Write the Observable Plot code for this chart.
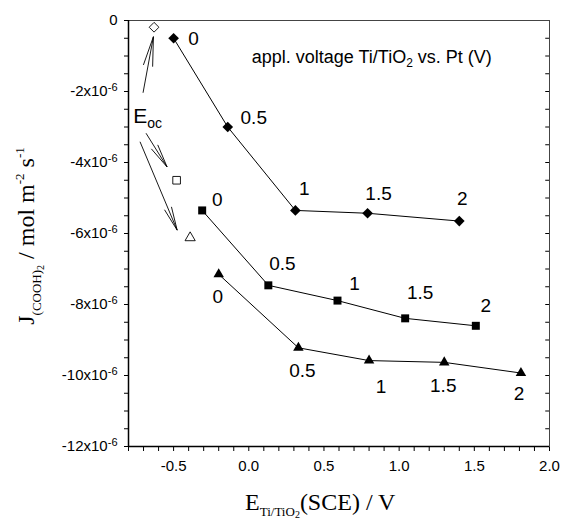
<!DOCTYPE html>
<html><head><meta charset="utf-8">
<script src="https://cdn.jsdelivr.net/npm/d3@7"></script>
<script src="https://cdn.jsdelivr.net/npm/@observablehq/plot@0.6"></script>
<style>
html,body{margin:0;padding:0;background:#fff}
#chart svg{display:block}
</style></head><body><div id="chart"></div>
<script>
// x: E(Ti/TiO2) vs SCE in V; y: J(COOH)2 in units of 1e-6 mol m^-2 s^-1
const voltageLabels = ["0", "0.5", "1", "1.5", "2"];
const diamondE = [-0.50, -0.14, 0.31, 0.79, 1.40];
const diamondJ = [-0.50, -3.00, -5.35, -5.43, -5.65];
const squareE  = [-0.31, 0.13, 0.59, 1.04, 1.51];
const squareJ  = [-5.35, -7.46, -7.89, -8.39, -8.60];
const triangleE = [-0.20, 0.33, 0.80, 1.30, 1.81];
const triangleJ = [-7.15, -9.22, -9.58, -9.63, -9.93];
const eocE = [-0.63, -0.48, -0.39];
const eocJ = [-0.19, -4.50, -6.12];
const eocSymbols = ["diamond2", "square", "triangle"];
const arrowFromE = [-0.70, -0.68, -0.72];
const arrowFromJ = [-2.05, -3.19, -3.43];
const arrowToE = [-0.631, -0.54, -0.473];
const arrowToJ = [-0.47, -4.14, -5.92];
const eocLabelE = -0.765, eocLabelJ = -2.9;
const noteE = 0.023, noteJ = -1.21;
const xTicks = [-0.5, 0.0, 0.5, 1.0, 1.5, 2.0];
const xMinorTicks = d3.range(-8, 21).map(d => d / 10);
const yTicks = [0, -2, -4, -6, -8, -10, -12];
const yMinorTicks = d3.range(0, -25, -1).map(d => d / 2);
const xDomain = [-0.8, 2.0];
const yDomain = [-12, 0];

const sans = "'Liberation Sans', Arial, Helvetica, sans-serif";
const serif = "'Liberation Serif', 'Times New Roman', serif";

const series = [
  {E: diamondE, J: diamondJ, symbol: "diamond2", r: 4.8, offsets: [[20,1],[26,-9],[9,-22],[11,-19],[3,-22]]},
  {E: squareE, J: squareJ, symbol: "square", r: 4.5, offsets: [[15,-11],[14,-21],[17,-17],[15,-25],[10,-20]]},
  {E: triangleE, J: triangleJ, symbol: "triangle", r: 3.9, offsets: [[-1,23],[4,23],[12,26],[-1,24],[-2,21]]}
];

const marks = [
  Plot.axisX(xMinorTicks, {tickSize: 5, tickFormat: () => "", label: null}),
  Plot.axisX(xTicks, {tickSize: 0, tickPadding: 14, tickFormat: d => d.toFixed(1), label: null, fontSize: 15}),
  Plot.axisY(yMinorTicks, {tickSize: 4, tickFormat: () => "", label: null}),
  Plot.axisY(yTicks, {tickSize: 0, tickPadding: 11, tickFormat: d => d === 0 ? "0" : `${d}x10^-6`, label: null, fontSize: 15}),
  Plot.ruleY(yMinorTicks, {y: d => d, x1: xDomain[1] - 0.025, x2: xDomain[1], stroke: "black"}),
  Plot.frame({stroke: "#444", strokeWidth: 1}),
  Plot.ruleX([xDomain[0]], {stroke: "black", strokeWidth: 1.5}),
  Plot.ruleY([yDomain[0]], {stroke: "black", strokeWidth: 1.5})
];

for (const s of series) {
  const idx = d3.range(s.E.length);
  marks.push(Plot.line(idx, {x: i => s.E[i], y: i => s.J[i], stroke: "black", strokeWidth: 1}));
  marks.push(Plot.dot(idx, {x: i => s.E[i], y: i => s.J[i], symbol: s.symbol, r: s.r, fill: "black", stroke: "none"}));
  idx.forEach(i => marks.push(Plot.text([i], {
    x: j => s.E[j], y: j => s.J[j], text: j => voltageLabels[j],
    dx: s.offsets[i][0], dy: s.offsets[i][1], fontSize: 19, fill: "black"
  })));
}
const eocR = [4.4, 4.3, 3.8];
eocSymbols.forEach((sym, i) => marks.push(Plot.dot([i], {
  x: j => eocE[j], y: j => eocJ[j], symbol: sym, r: eocR[i], fill: "white", stroke: "black", strokeWidth: 0.9
})));

const svg = Plot.plot({
  width: 565, height: 520,
  marginLeft: 128, marginRight: 16, marginTop: 20, marginBottom: 74,
  x: {domain: xDomain},
  y: {domain: yDomain},
  style: {fontFamily: sans, fontSize: "15px", color: "black", background: "white"},
  marks
});
document.getElementById("chart").append(svg);

const sx = svg.scale("x"), sy = svg.scale("y");
const X = v => sx.apply(v), Y = v => sy.apply(v);
const root = d3.select(svg);

// superscript exponents on y tick labels
root.selectAll('g[aria-label="y-axis tick label"] text').each(function() {
  const t = this.textContent;
  if (!t.includes("^")) return;
  const [base, exp] = t.split("^");
  const sel = d3.select(this);
  sel.text(null);
  sel.append("tspan").text(base);
  sel.append("tspan").attr("dy", "-0.45em").attr("font-size", "11px").text(exp);
});

// arrows from E_oc label
const ag = root.append("g").attr("stroke", "black").attr("stroke-width", 0.9).attr("fill", "none");
arrowFromE.forEach((_, i) => {
  const x1 = X(arrowFromE[i]), y1 = Y(arrowFromJ[i]), x2 = X(arrowToE[i]), y2 = Y(arrowToJ[i]);
  const a = Math.atan2(y2 - y1, x2 - x1);
  const L = i === 0 ? 30 : 24, w = 9 * Math.PI / 180;
  ag.append("path").attr("d",
    `M${x1},${y1}L${x2},${y2}` +
    `M${x2 - L * Math.cos(a - w)},${y2 - L * Math.sin(a - w)}L${x2},${y2}L${x2 - L * Math.cos(a + w)},${y2 - L * Math.sin(a + w)}`);
});

// E_oc label
const eoc = root.append("text").attr("x", X(eocLabelE)).attr("y", Y(eocLabelJ)).attr("text-anchor", "start")
  .attr("font-family", sans).attr("font-size", 21).attr("fill", "black");
eoc.append("tspan").text("E");
eoc.append("tspan").attr("font-size", 14).attr("dy", 5).text("oc");

// annotation
const note = root.append("text").attr("x", X(noteE)).attr("y", Y(noteJ)).attr("text-anchor", "start")
  .attr("font-family", sans).attr("font-size", 18).attr("fill", "black");
note.append("tspan").text("appl. voltage Ti/TiO");
note.append("tspan").attr("font-size", 12).attr("dy", 4).text("2");
note.append("tspan").attr("dy", -4).text(" vs. Pt (V)");

// y axis label
const yl = root.append("text").attr("transform", "translate(34,236) rotate(-90)")
  .attr("text-anchor", "middle").attr("font-family", serif).attr("font-size", 24).attr("fill", "black");
yl.append("tspan").text("J");
yl.append("tspan").attr("font-size", 13).attr("dy", 7).text("(COOH)");
yl.append("tspan").attr("font-size", 10).attr("dy", 3).text("2");
yl.append("tspan").attr("dy", -10).text(" / mol m");
yl.append("tspan").attr("font-size", 13).attr("dy", -10).text("-2");
yl.append("tspan").attr("dy", 10).text(" s");
yl.append("tspan").attr("font-size", 13).attr("dy", -10).text("-1");

// x axis label
const xl = root.append("text").attr("x", 245).attr("y", 510).attr("text-anchor", "start")
  .attr("font-family", serif).attr("font-size", 24).attr("fill", "black");
xl.append("tspan").text("E");
xl.append("tspan").attr("font-size", 13).attr("dy", 6).text("Ti/TiO");
xl.append("tspan").attr("font-size", 10).attr("dy", 2).text("2");
xl.append("tspan").attr("dy", -8).text("(SCE) / V");
</script>
</body></html>
